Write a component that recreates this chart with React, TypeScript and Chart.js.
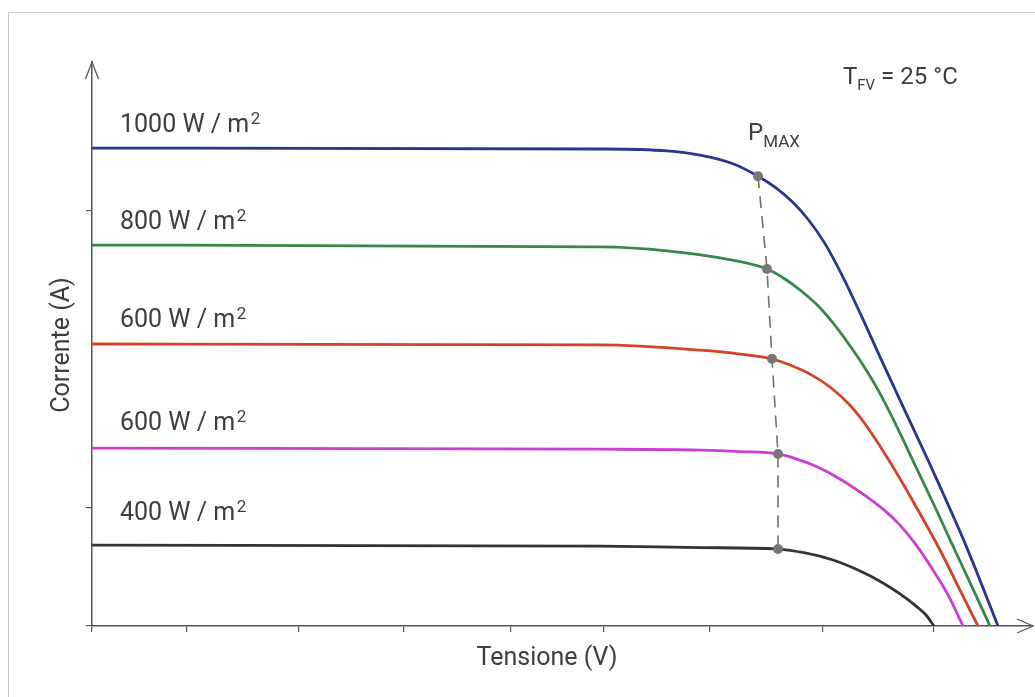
import { useEffect, useRef } from "react";
import { Chart, registerables } from "chart.js";

Chart.register(...registerables);

// ---- Data (voltage in V, current in A) ----
const curveLabels = ["1000 W / m²", "800 W / m²", "600 W / m²", "600 W / m²", "400 W / m²"];

const voltage1000 = [0, 25.4, 28.75, 30.4, 32.05, 33.3, 34.15, 35.0, 35.8, 36.65, 37.5, 38.4, 39.4, 40.65, 42.05, 43.75, 45.3];
const current1000 = [10.0, 9.98, 9.94, 9.85, 9.67, 9.41, 9.18, 8.88, 8.51, 8.0, 7.34, 6.55, 5.63, 4.5, 3.24, 1.63, 0];

const voltage800 = [0, 25.4, 28.75, 31.25, 33.75, 34.65, 35.4, 36.25, 37.05, 37.8, 38.55, 39.3, 40.15, 41.25, 42.15, 43.05, 44.0, 44.9];
const current800 = [7.97, 7.93, 7.85, 7.71, 7.47, 7.26, 7.03, 6.72, 6.34, 5.92, 5.46, 4.94, 4.25, 3.28, 2.49, 1.67, 0.82, 0];

const voltage600a = [0, 25.4, 30.4, 32.4, 34.0, 34.9, 35.9, 36.9, 37.9, 38.4, 38.9, 39.9, 40.9, 42.4, 43.4, 44.3];
const current600a = [5.9, 5.88, 5.77, 5.69, 5.59, 5.46, 5.27, 5.0, 4.62, 4.37, 4.08, 3.43, 2.72, 1.59, 0.75, 0];

const voltage600b = [0, 25.4, 30.4, 32.4, 34.3, 35.25, 36.25, 37.5, 38.75, 39.6, 40.4, 41.25, 42.05, 42.8, 43.55];
const current600b = [3.72, 3.7, 3.68, 3.65, 3.6, 3.49, 3.33, 3.05, 2.7, 2.43, 2.11, 1.67, 1.17, 0.65, 0];

const voltage400 = [0, 25.4, 30.4, 34.3, 35.65, 37.05, 38.3, 39.55, 40.4, 41.25, 41.7, 42.1];
const current400 = [1.69, 1.67, 1.64, 1.61, 1.53, 1.38, 1.17, 0.9, 0.67, 0.4, 0.23, 0];

const pmaxVoltage = [33.3, 33.75, 34.0, 34.3, 34.3];
const pmaxCurrent = [9.41, 7.47, 5.59, 3.6, 1.61];

const xTickValues = [0, 4.75, 10.35, 15.6, 20.95, 25.6, 30.9, 36.55, 42.1];
const yTickValues = [0, 2.47, 8.7];

const xAxisMax = 47.05;
const yAxisMax = 11.8;

const xTitle = "Tensione (V)";
const yTitle = "Corrente (A)";
const tempLabel = { main: "T", sub: "FV", rest: " = 25 °C" };
const pmaxLabel = { main: "P", sub: "MAX" };

const curveColors = ["#2b3590", "#35874a", "#d44226", "#c93fd0", "#333333"];

const zip = (xs: number[], ys: number[]) => xs.map((x, i) => ({ x, y: ys[i] }));

const FONT = "Roboto, 'Liberation Sans', sans-serif";
const TEXT = "#3d3d3d";
const AXIS = "#555555";

const overlayPlugin = {
  id: "overlay",
  afterDraw(chart: any) {
    const ctx: CanvasRenderingContext2D = chart.ctx;
    const { left, right, top, bottom } = chart.chartArea;
    ctx.save();

    // arrow heads
    ctx.strokeStyle = AXIS;
    ctx.lineWidth = 1.3;
    ctx.beginPath();
    ctx.moveTo(left - 6.5, top + 17);
    ctx.lineTo(left, top);
    ctx.lineTo(left + 6.5, top + 17);
    ctx.moveTo(right - 16, bottom - 7);
    ctx.lineTo(right, bottom);
    ctx.lineTo(right - 16, bottom + 7);
    ctx.stroke();

    ctx.fillStyle = TEXT;
    ctx.textBaseline = "alphabetic";

    // curve labels
    const baselines = [132, 229, 327, 430, 520];
    curveLabels.forEach((txt, i) => {
      const base = txt.replace("²", "");
      ctx.font = `25px ${FONT}`;
      ctx.textAlign = "left";
      ctx.fillText(base, 120, baselines[i]);
      const w = ctx.measureText(base).width;
      if (txt.endsWith("²")) {
        ctx.font = `17px ${FONT}`;
        ctx.fillText("2", 120 + w + 1.5, baselines[i] - 8);
      }
    });

    // temperature label
    ctx.font = `24px ${FONT}`;
    ctx.fillText(tempLabel.main, 843, 84);
    let x = 843 + ctx.measureText(tempLabel.main).width;
    ctx.font = `15px ${FONT}`;
    ctx.fillText(tempLabel.sub, x, 90);
    x += ctx.measureText(tempLabel.sub).width;
    ctx.font = `24px ${FONT}`;
    ctx.fillText(tempLabel.rest, x, 84);

    // Pmax label
    ctx.font = `24px ${FONT}`;
    ctx.fillText(pmaxLabel.main, 748, 140);
    x = 748 + ctx.measureText(pmaxLabel.main).width;
    ctx.font = `17px ${FONT}`;
    ctx.fillText(pmaxLabel.sub, x, 147);

    // axis titles
    ctx.font = `25px ${FONT}`;
    ctx.textAlign = "center";
    ctx.fillText(xTitle, 547, 665);
    ctx.save();
    ctx.translate(69, 345);
    ctx.rotate(-Math.PI / 2);
    ctx.fillText(yTitle, 0, 0);
    ctx.restore();

    ctx.restore();
  },
};

export default function App() {
  const canvasRef = useRef<HTMLCanvasElement | null>(null);

  useEffect(() => {
    if (!canvasRef.current) return;
    const xs = [voltage1000, voltage800, voltage600a, voltage600b, voltage400];
    const ys = [current1000, current800, current600a, current600b, current400];
    const curveDatasets = xs.map((vx, i) => ({
      label: curveLabels[i],
      data: zip(vx, ys[i]),
      borderColor: curveColors[i],
      borderWidth: 2.8,
      pointRadius: 0,
      cubicInterpolationMode: "monotone" as const,
      fill: false,
      order: 1,
    }));
    const chart = new Chart(canvasRef.current, {
      type: "line",
      data: {
        datasets: [
          ...curveDatasets,
          {
            label: "PMAX",
            data: zip(pmaxVoltage, pmaxCurrent),
            borderColor: "#707070",
            borderWidth: 1.6,
            borderDash: [12, 8],
            pointRadius: 5,
            pointBackgroundColor: "#777777",
            pointBorderWidth: 0,
            tension: 0,
            fill: false,
            order: -1,
          },
        ],
      },
      options: {
        responsive: false,
        animation: false,
        layout: { autoPadding: false, padding: { left: 86, top: 62, right: 2, bottom: 65 } },
        plugins: { legend: { display: false }, tooltip: { enabled: false } },
        events: [],
        scales: {
          x: {
            type: "linear",
            min: 0,
            max: xAxisMax,
            afterBuildTicks: (s: any) => {
              s.ticks = xTickValues.map((v) => ({ value: v }));
            },
            ticks: { display: false },
            grid: { drawOnChartArea: false, drawTicks: true, tickLength: 6, color: AXIS, lineWidth: 1.2 },
            border: { display: true, color: AXIS, width: 1.5 },
          },
          y: {
            type: "linear",
            min: 0,
            max: yAxisMax,
            afterBuildTicks: (s: any) => {
              s.ticks = yTickValues.map((v) => ({ value: v }));
            },
            ticks: { display: false },
            grid: { drawOnChartArea: false, drawTicks: true, tickLength: 6, color: AXIS, lineWidth: 1.2 },
            border: { display: true, color: AXIS, width: 1.5 },
          },
        },
      },
      plugins: [overlayPlugin],
    });
    return () => chart.destroy();
  }, []);

  return (
    <div style={{ position: "fixed", left: 0, top: 0, width: 1035, height: 697, background: "#fff" }}>
      <div
        style={{
          position: "absolute",
          left: 8,
          top: 12,
          width: 1100,
          height: 800,
          borderLeft: "1.5px solid #cacaca",
          borderTop: "1.5px solid #cacaca",
        }}
      />
      <canvas ref={canvasRef} width={1035} height={697} style={{ position: "absolute", left: 0, top: 0 }} />
    </div>
  );
}
